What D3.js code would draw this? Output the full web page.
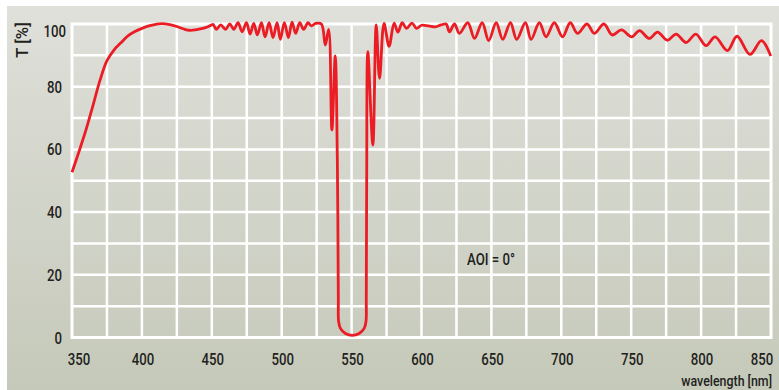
<!DOCTYPE html>
<html>
<head>
<meta charset="utf-8">
<script src="https://cdnjs.cloudflare.com/ajax/libs/d3/7.8.5/d3.min.js"></script>
<style>
  html, body { margin: 0; padding: 0; background: #fff; }
  svg { display: block; }
  text { font-family: Roboto, "Liberation Sans", sans-serif; font-weight: 500; fill: #231f20; }
</style>
</head>
<body>
<div id="chart"></div>
<script>
// wavelength [nm] and transmission [%] (peaks / troughs)
const wavelength = [
  350, 355, 360, 365, 370, 375, 380, 385, 390, 395, 400, 405, 410, 414, 420, 425, 430, 434, 440, 446, 449.8,
  450.9, 453.3, 456.4, 459.8, 462.9, 465.7, 468.8, 471.7, 474.8, 477.4, 480.0, 482.6, 485.5, 488.1, 491.0,
  493.8, 496.7, 499.0, 501.9, 504.8, 507.4, 510.0, 512.9, 515.7, 518.8, 521.2, 524.3, 528.4,
  531.2, 533.6, 535.9, 538.3, 539.8, 540.5, 540.7, 542.0, 545.6, 550.5, 555.4, 559.0, 560.3, 560.5, 560.8, 561.6,
  565.2, 567.6, 570.0, 573.2, 576.8, 580.4, 583.1, 586.2, 589.3, 593.2, 596.4, 600, 605, 610, 614,
  617.6, 620, 623.6, 627.1, 633.1, 637.9, 643.4, 648.1, 653.4, 658.1, 663.6, 668.1, 674.3, 678.4,
  684.3, 689.1, 695.0, 700.9, 706.4, 711.6, 718.4, 723.6, 730.5, 736.4, 743.0, 750.4, 755.9, 762.9,
  768.8, 775.9, 782.1, 789.3, 796.2, 803.6, 810.0, 818.8, 825.7, 835.0, 843.2, 849.8
];
const transmission = [
  52.7, 59.3, 66.2, 74, 82, 88.3, 91.7, 94, 96.2, 97.6, 98.6, 99.4, 99.9, 100.1, 99.8, 99.2, 98.4, 98.0, 98.3, 98.9, 99.7,
  99.9, 98.3, 99.7, 98.3, 100.0, 98.3, 100.4, 97.5, 100.4, 96.8, 100.2, 96.5, 100.4, 95.9, 100.4,
  95.7, 100.4, 95.1, 100.4, 95.7, 100.6, 97.0, 100.4, 98.3, 100.4, 99.4, 100.2, 100.0,
  93.3, 98.3, 66.2, 89.8, 56.6, 12, 5.1, 2.9, 1.3, 0.7, 1.3, 2.9, 5.1, 12, 50, 91.2,
  61.4, 99.7, 82.7, 100.2, 92.9, 100.3, 97.4, 100.4, 98.6, 100.3, 98.6, 99.6, 99.4, 99.1, 99.7,
  100.0, 97.5, 100.0, 97.0, 100.4, 95.4, 100.4, 94.7, 100.4, 95.1, 100.4, 95.1, 100.4, 95.1,
  100.4, 95.9, 100.4, 95.9, 100.4, 97.0, 100.0, 97.0, 100.0, 96.5, 98.1, 95.9, 97.9, 95.4,
  97.4, 94.8, 96.8, 94.1, 96.8, 93.1, 95.9, 91.5, 96.1, 90.3, 94.7, 89.8
];
const xTicks = [350, 400, 450, 500, 550, 600, 650, 700, 750, 800, 850];
const yTicks = [0, 20, 40, 60, 80, 100];
const xGrid = d3.range(375, 850, 25);
const yGrid = d3.range(10, 100, 10);

const width = 779, height = 390;
const narrow = 0.8; // the original font is a condensed face
const svg = d3.select('#chart').append('svg')
  .attr('width', width)
  .attr('height', height);

// panel background gradient
const grad = svg.append('defs').append('linearGradient')
  .attr('id', 'bg').attr('x1', 0).attr('y1', 0).attr('x2', 0).attr('y2', 1);
grad.append('stop').attr('offset', '0%').attr('stop-color', '#dfe0da');
grad.append('stop').attr('offset', '100%').attr('stop-color', '#c5c9b9');

svg.append('rect')
  .attr('x', 7).attr('y', 6)
  .attr('width', width - 7).attr('height', height - 6)
  .attr('fill', 'url(#bg)');

// scales
const x = d3.scaleLinear().domain([350, 850]).range([72, 771]);
const y = d3.scaleLinear().domain([0, 100]).range([337.5, 24]);

// grid
svg.append('g').selectAll('line').data(xGrid).join('line')
  .attr('x1', d => x(d)).attr('x2', d => x(d))
  .attr('y1', y(0)).attr('y2', y(100))
  .attr('stroke', '#fff').attr('stroke-width', 2.5);

svg.append('g').selectAll('line').data(yGrid).join('line')
  .attr('x1', x(350)).attr('x2', x(850))
  .attr('y1', d => y(d)).attr('y2', d => y(d))
  .attr('stroke', '#fff').attr('stroke-width', 2.5);

svg.append('rect')
  .attr('x', x(350)).attr('y', y(100))
  .attr('width', x(850) - x(350)).attr('height', y(0) - y(100))
  .attr('fill', 'none').attr('stroke', '#fff').attr('stroke-width', 3);

// tick labels
svg.append('g').selectAll('text').data(xTicks).join('text')
  .attr('transform', d => `translate(${x(d) + (d === 350 ? 7 : d === 850 ? -9 : 1)},365) scale(${narrow},1)`)
  .attr('text-anchor', 'middle')
  .attr('font-size', 16.5)
  .text(d => d);

svg.append('g').selectAll('text').data(yTicks).join('text')
  .attr('transform', d => `translate(${d === 100 ? 66 : 62},${y(d) + (d === 100 ? 13 : 6)}) scale(${narrow},1)`)
  .attr('text-anchor', 'end')
  .attr('font-size', 16.5)
  .text(d => d);

// axis titles
svg.append('text')
  .attr('transform', `translate(28, 40) rotate(-90) scale(1.05,1)`)
  .attr('text-anchor', 'middle')
  .attr('font-size', 16)
  .text('T [%]');

svg.append('text')
  .attr('transform', `translate(772, 386) scale(${narrow},1)`)
  .attr('text-anchor', 'end')
  .attr('font-size', 15.5)
  .text('wavelength [nm]');

svg.append('text')
  .attr('transform', `translate(467, 265) scale(${narrow},1)`)
  .attr('font-size', 16.5)
  .text('AOI = 0°');

// transmission curve
const line = d3.line()
  .x((d, i) => x(wavelength[i]))
  .y(d => y(d))
  .curve(d3.curveCatmullRom.alpha(0.5));

svg.append('path')
  .datum(transmission)
  .attr('d', line)
  .attr('fill', 'none')
  .attr('stroke', '#ec1c24')
  .attr('stroke-width', 2.8)
  .attr('stroke-linejoin', 'round');
</script>
</body>
</html>
